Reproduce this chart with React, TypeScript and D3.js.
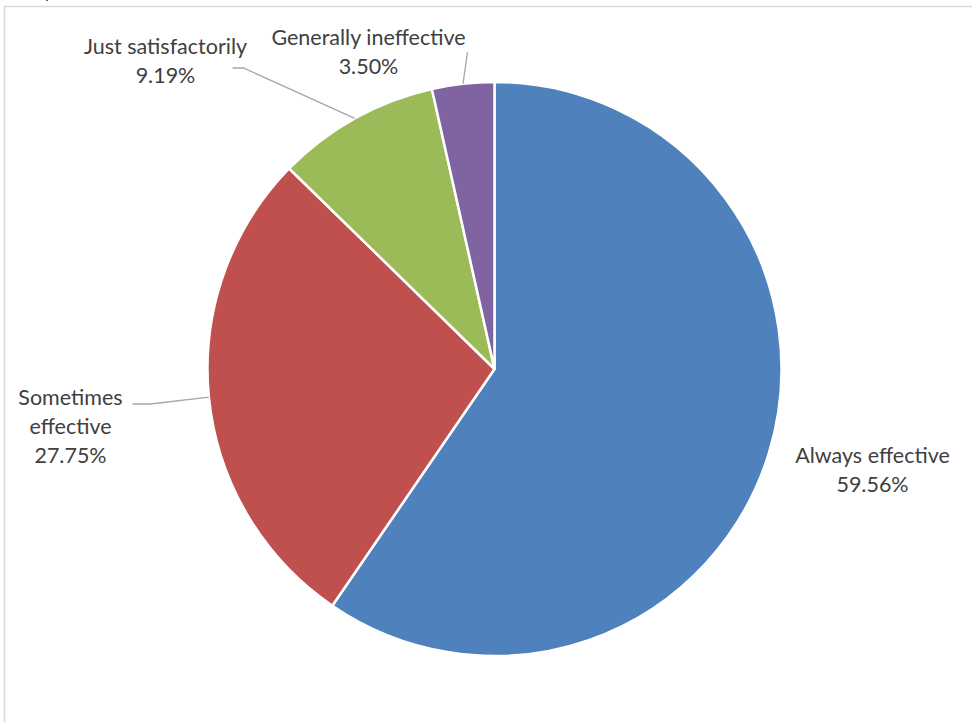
import React from "react";
import * as d3 from "d3";

const categories = ["Always effective", "Sometimes effective", "Just satisfactorily", "Generally ineffective"];
const values = [59.56, 27.75, 9.19, 3.5];
const colors = ["#4F81BD", "#C0504D", "#9BBB59", "#8064A2"];
// label layout: lines, center offset from pie center, leader elbow offsets (relative to pie center)
const labelLines = [
  ["Always effective", "59.56%"],
  ["Sometimes", "effective", "27.75%"],
  ["Just satisfactorily", "9.19%"],
  ["Generally ineffective", "3.50%"],
];
const labelPos: [number, number][] = [
  [378, 100],
  [-424, 57],
  [-329, -309],
  [-126, -318],
];
const leaderElbows: ([number, number][] | null)[] = [
  null,
  [[-362, 35], [-344, 35]],
  [[-262, -301], [-251, -301]],
  [[-27, -317]],
];

const W = 972;
const H = 722;
const cx = 494.5;
const cy = 369;
const R = 287;
const lineH = 29;

export default function App() {
  const pie = d3.pie<number>().sort(null).value((d) => d);
  const arcs = pie(values);
  const arc = d3.arc<d3.PieArcDatum<number>>().innerRadius(0).outerRadius(R);
  const font = "Lato, 'Open Sans', sans-serif";
  return (
    <svg width={W} height={H} style={{ position: "absolute", left: 0, top: 0, background: "#fff" }}>
      <text x={17} y={-2} fontFamily={font} fontSize={18} fill="#404040">Responses</text>
      <path d={`M4.5,${H} L4.5,6.5 L${W},6.5`} fill="none" stroke="#d9d9d9" strokeWidth={1.5} />
      <g transform={`translate(${cx},${cy})`}>
        {arcs.map((a, i) => (
          <path key={categories[i]} d={arc(a) || ""} fill={colors[i]} stroke="#fff" strokeWidth={2.5} strokeLinejoin="round" />
        ))}
        {arcs.map((a, i) => {
          const el = leaderElbows[i];
          if (!el) return null;
          const mid = (a.startAngle + a.endAngle) / 2;
          const px = R * Math.sin(mid);
          const py = -R * Math.cos(mid);
          const pts = [...el, [px, py]];
          return (
            <polyline key={"l" + i} points={pts.map((p) => p.join(",")).join(" ")} fill="none" stroke="#a6a6a6" strokeWidth={1.3} />
          );
        })}
        {labelLines.map((lines, i) => {
          const [lx, ly] = labelPos[i];
          const top = ly - ((lines.length - 1) * lineH) / 2;
          return (
            <text key={"t" + i} fontFamily={font} fontSize={21.5} fill="#404040" textAnchor="middle">
              {lines.map((s, j) => (
                <tspan key={j} x={lx} y={top + j * lineH} dominantBaseline="central">{s}</tspan>
              ))}
            </text>
          );
        })}
      </g>
    </svg>
  );
}
